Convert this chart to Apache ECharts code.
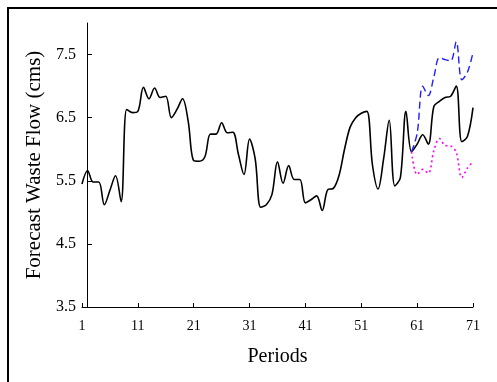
<!DOCTYPE html>
<html>
<head>
<meta charset="utf-8">
<script src="https://cdn.jsdelivr.net/npm/echarts@6/dist/echarts.min.js"></script>
<style>
  html, body { margin: 0; padding: 0; background: #fff; }
  #chart { width: 497px; height: 382px; }
</style>
</head>
<body>
<div id="chart"></div>
<script>
// observed waste flow, periods 1..71
const actualStart = 1
const actualFlow = [
  5.45, 5.66, 5.48, 5.48, 5.12, 5.35, 5.58, 5.17, 6.63, 6.58,
  6.6, 6.98, 6.8, 6.97, 6.82, 6.84, 6.5, 6.63, 6.8, 6.45,
  5.82, 5.81, 5.88, 6.24, 6.24, 6.42, 6.26, 6.27, 5.92, 5.6,
  6.16, 5.85, 5.08, 5.12, 5.28, 5.8, 5.46, 5.74, 5.52, 5.52,
  5.15, 5.2, 5.26, 5.03, 5.36, 5.38, 5.58, 6.0, 6.35, 6.5,
  6.57, 6.6, 5.75, 5.37, 5.85, 6.46, 5.42, 5.55, 6.6, 5.96,
  6.08, 6.23, 6.08, 6.68, 6.76, 6.82, 6.84, 7.0, 6.12, 6.2,
  6.66
]
// forecast bounds, periods 60..71
const forecastStart = 60
const upperFlow = [5.96, 6.25, 7.0, 6.85, 7.15, 7.45, 7.42, 7.4, 7.7, 7.1, 7.22, 7.53]
const lowerFlow = [5.96, 5.6, 5.68, 5.62, 5.98, 6.17, 6.06, 6.05, 5.95, 5.55, 5.7, 5.8]

const xTicks = [1, 11, 21, 31, 41, 51, 61, 71]
const yTicks = [3.5, 4.5, 5.5, 6.5, 7.5]

const serif = 'Liberation Serif, Times New Roman, serif'

function toPoints(start, values) {
  return values.map((v, i) => [start + i, v])
}

const myChart = echarts.init(document.getElementById('chart'))

const option = {
  backgroundColor: '#fff',
  animation: false,
  // outer frame
  graphic: [
    {
      type: 'rect',
      shape: { x: 8, y: 8, width: 520, height: 400 },
      style: { fill: 'none', stroke: '#000', lineWidth: 2 },
      silent: true
    }
  ],
  grid: {
    left: 82,
    right: 24,
    top: 23,
    bottom: 75,
    outerBoundsMode: 'none'
  },
  xAxis: {
    type: 'value',
    min: 1,
    max: 71,
    name: 'Periods',
    nameLocation: 'middle',
    nameGap: 40,
    nameTextStyle: { fontFamily: serif, fontSize: 20, color: '#000' },
    axisLine: { lineStyle: { color: '#000', width: 1 } },
    axisTick: { inside: true, length: 4, customValues: xTicks, lineStyle: { color: '#000' } },
    axisLabel: { customValues: xTicks, margin: 12, fontFamily: serif, fontSize: 14, color: '#000' },
    splitLine: { show: false }
  },
  yAxis: {
    type: 'value',
    min: 3.5,
    max: 8,
    offset: -5,
    name: 'Forecast Waste Flow (cms)',
    nameLocation: 'middle',
    nameGap: 42,
    nameTextStyle: { fontFamily: serif, fontSize: 21, color: '#000' },
    axisLine: { show: true, lineStyle: { color: '#000', width: 1 } },
    axisTick: { show: true, inside: true, length: 5, customValues: yTicks, lineStyle: { color: '#000' } },
    axisLabel: {
      customValues: yTicks,
      margin: 11,
      fontFamily: serif,
      fontSize: 16,
      color: '#000',
      formatter: v => v.toFixed(1)
    },
    splitLine: { show: false }
  },
  series: [
    {
      name: 'Actual',
      type: 'line',
      smooth: 0.35,
      symbol: 'none',
      lineStyle: { color: '#000', width: 1.6 },
      data: toPoints(actualStart, actualFlow),
      z: 3
    },
    {
      name: 'Upper',
      type: 'line',
      smooth: 0.35,
      symbol: 'none',
      lineStyle: { color: '#1f1fff', width: 1.4, type: [7, 4] },
      data: toPoints(forecastStart, upperFlow)
    },
    {
      name: 'Lower',
      type: 'line',
      smooth: 0.35,
      symbol: 'none',
      lineStyle: { color: '#ff00ff', width: 1.6, type: [2, 3] },
      data: toPoints(forecastStart, lowerFlow)
    }
  ]
}

myChart.setOption(option)
window.addEventListener('resize', function () {
  myChart.resize()
})
</script>
</body>
</html>
